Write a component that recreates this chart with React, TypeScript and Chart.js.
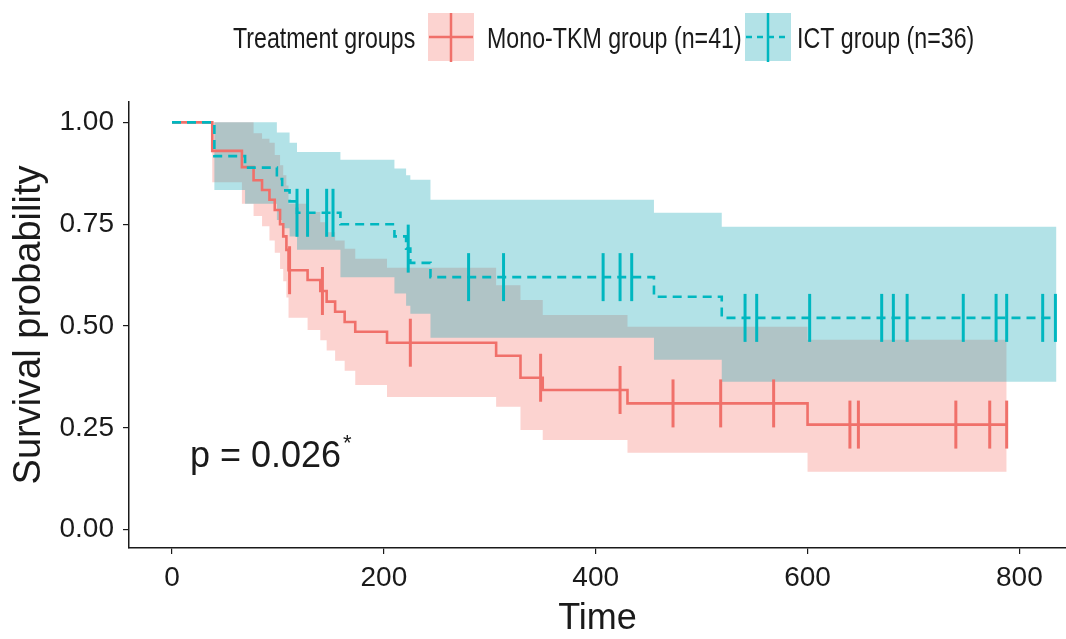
import React, { useEffect, useRef } from "react";
import { Chart, registerables } from "chart.js";

Chart.register(...registerables);

// ---------- data ----------
const xTicks = [0, 200, 400, 600, 800];
const yTicks = [0, 0.25, 0.5, 0.75, 1];

const legendTitle = "Treatment groups";
const seriesNames = ["Mono-TKM group (n=41)", "ICT group (n=36)"];
const pValueText = "p = 0.026";
const pValueStar = "*";

// Mono-TKM group: step curve (time, survival) and 95% band
const monoTimes = [0, 38, 66, 77, 85, 92, 97, 102, 105, 108, 110, 128, 140, 146, 154, 163, 173, 203, 306, 329, 350, 430, 600, 788];
const monoSurv = [1, 0.93, 0.89, 0.858, 0.834, 0.81, 0.785, 0.75, 0.72, 0.687, 0.637, 0.613, 0.586, 0.56, 0.535, 0.51, 0.486, 0.459, 0.427, 0.373, 0.343, 0.31, 0.258, 0.258];
const monoUpper = [1, 1, 1, 0.973, 0.96, 0.95, 0.92, 0.895, 0.87, 0.845, 0.8, 0.78, 0.755, 0.73, 0.71, 0.69, 0.665, 0.643, 0.6, 0.564, 0.527, 0.498, 0.466, 0.466];
const monoLower = [1, 0.853, 0.8, 0.77, 0.745, 0.71, 0.68, 0.64, 0.61, 0.57, 0.52, 0.49, 0.465, 0.44, 0.415, 0.39, 0.355, 0.326, 0.302, 0.245, 0.22, 0.189, 0.142, 0.142];
const monoCensorTimes = [111, 142, 225, 348, 423, 473, 518, 568, 640, 648, 740, 772, 788];
const monoCensorSurv = [0.637, 0.586, 0.459, 0.373, 0.343, 0.31, 0.31, 0.31, 0.258, 0.258, 0.258, 0.258, 0.258];

// ICT group
const ictTimes = [0, 40, 69, 99, 104, 111, 118, 159, 210, 221, 225, 244, 455, 519, 835];
const ictSurv = [1, 0.917, 0.889, 0.861, 0.833, 0.806, 0.778, 0.75, 0.72, 0.69, 0.655, 0.62, 0.572, 0.52, 0.52];
const ictUpper = [1, 1, 1, 0.975, 0.975, 0.95, 0.927, 0.908, 0.887, 0.87, 0.859, 0.81, 0.778, 0.744, 0.744];
const ictLower = [1, 0.834, 0.8, 0.76, 0.74, 0.72, 0.687, 0.62, 0.58, 0.55, 0.53, 0.471, 0.417, 0.363, 0.363];
const ictCensorTimes = [118, 128, 146, 152, 223, 280, 313, 407, 423, 434, 541, 552, 602, 670, 681, 694, 747, 778, 788, 822, 834];
const ictCensorSurv = [0.778, 0.778, 0.778, 0.778, 0.69, 0.62, 0.62, 0.62, 0.62, 0.62, 0.52, 0.52, 0.52, 0.52, 0.52, 0.52, 0.52, 0.52, 0.52, 0.52, 0.52];

// ---------- styling ----------
const RED = "#F0706A";
const TEAL = "#00B7C0";
const RED_FILL = "rgba(244,110,100,0.3)";
const TEAL_FILL = "rgba(0,160,175,0.3)";
const FONT = "'Liberation Sans', Arial, sans-serif";
const INK = "#1a1a1a";

const pts = (xs: number[], ys: number[]) => xs.map((x, i) => ({ x, y: ys[i] }));

function narrowText(ctx: CanvasRenderingContext2D, text: string, x: number, y: number, size: number, sx: number) {
  ctx.save();
  ctx.translate(x, y);
  ctx.scale(sx, 1);
  ctx.font = `${size}px ${FONT}`;
  ctx.fillStyle = INK;
  ctx.textBaseline = "alphabetic";
  ctx.textAlign = "left";
  ctx.fillText(text, 0, 0);
  ctx.restore();
}

const overlayPlugin = {
  id: "kmOverlay",
  afterDraw(chart: any) {
    const ctx: CanvasRenderingContext2D = chart.ctx;
    ctx.save();
    // legend
    narrowText(ctx, legendTitle, 233, 48, 29, 0.8);

    // key 1
    ctx.fillStyle = RED_FILL;
    ctx.fillRect(428, 13, 46, 48);
    ctx.strokeStyle = RED;
    ctx.lineWidth = 2.5;
    ctx.beginPath();
    ctx.moveTo(429, 37);
    ctx.lineTo(473, 37);
    ctx.moveTo(451, 13);
    ctx.lineTo(451, 62);
    ctx.stroke();
    narrowText(ctx, seriesNames[0], 487, 48, 29, 0.8);

    // key 2
    ctx.fillStyle = TEAL_FILL;
    ctx.fillRect(745, 13, 46, 48);
    ctx.strokeStyle = TEAL;
    ctx.lineWidth = 2.5;
    ctx.setLineDash([6, 5]);
    ctx.beginPath();
    ctx.moveTo(746, 37);
    ctx.lineTo(790, 37);
    ctx.stroke();
    ctx.setLineDash([]);
    ctx.beginPath();
    ctx.moveTo(768, 13);
    ctx.lineTo(768, 62);
    ctx.stroke();
    narrowText(ctx, seriesNames[1], 797, 48, 29, 0.8);

    // p value
    ctx.fillStyle = INK;
    ctx.font = `36px ${FONT}`;
    ctx.textBaseline = "alphabetic";
    ctx.fillText(pValueText, 190, 467);
    ctx.font = `22px ${FONT}`;
    ctx.fillText(pValueStar, 343, 450);
    ctx.restore();
  },
};

export default function App() {
  const ref = useRef<HTMLCanvasElement>(null);

  useEffect(() => {
    document.body.style.margin = "0";
    const band = (xs: number[], ys: number[], color: string, fill: any, order: number) => ({
      data: pts(xs, ys),
      stepped: "before" as const,
      borderColor: "rgba(0,0,0,0)",
      borderWidth: 0,
      backgroundColor: color,
      pointRadius: 0,
      fill,
      order,
    });
    const chart = new Chart(ref.current as HTMLCanvasElement, {
      type: "line",
      data: {
        datasets: [
          {
            data: pts(ictTimes, ictSurv),
            stepped: "before",
            borderColor: TEAL,
            borderWidth: 2.6,
            borderDash: [9, 6],
            pointRadius: 0,
            fill: false,
            order: 0,
          },
          {
            data: pts(monoTimes, monoSurv),
            stepped: "before",
            borderColor: RED,
            borderWidth: 2.6,
            pointRadius: 0,
            fill: false,
            order: 1,
          },
          {
            data: pts(ictCensorTimes, ictCensorSurv),
            showLine: false,
            pointStyle: "line",
            pointRotation: 90,
            pointRadius: 24,
            pointBorderWidth: 3,
            pointBorderColor: TEAL,
            borderColor: TEAL,
            fill: false,
            order: 2,
          },
          {
            data: pts(monoCensorTimes, monoCensorSurv),
            showLine: false,
            pointStyle: "line",
            pointRotation: 90,
            pointRadius: 24,
            pointBorderWidth: 3,
            pointBorderColor: RED,
            borderColor: RED,
            fill: false,
            order: 3,
          },
          band(ictTimes, ictUpper, TEAL_FILL, "+1", 4),
          band(ictTimes, ictLower, TEAL_FILL, false, 5),
          band(monoTimes, monoUpper, RED_FILL, "+1", 6),
          band(monoTimes, monoLower, RED_FILL, false, 7),
        ] as any,
      },
      options: {
        responsive: false,
        animation: false,
        devicePixelRatio: 1,
        events: [],
        layout: { autoPadding: false, padding: { top: 102, left: 0, right: 0, bottom: 0 } },
        plugins: {
          legend: { display: false },
          tooltip: { enabled: false },
          title: { display: false },
        },
        scales: {
          x: {
            type: "linear",
            min: -40.6,
            max: 844,
            afterBuildTicks: (s: any) => {
              s.ticks = xTicks.map((v) => ({ value: v }));
            },
            afterFit: (s: any) => {
              s.height = 91;
              s.paddingLeft = 0;
              s.paddingRight = 0;
            },
            ticks: {
              font: { family: FONT, size: 28 },
              color: INK,
              padding: 7,
              maxRotation: 0,
              autoSkip: false,
            },
            grid: {
              display: true,
              drawOnChartArea: false,
              drawTicks: true,
              tickLength: 6,
              color: INK,
              lineWidth: 1.2,
            },
            border: { display: true, color: INK, width: 1.5 },
            title: {
              display: true,
              text: "Time",
              color: INK,
              font: { family: FONT, size: 36, lineHeight: 1 },
              padding: { top: 0, bottom: 2 },
            },
          },
          y: {
            type: "linear",
            min: -0.045,
            max: 1.05,
            afterBuildTicks: (s: any) => {
              s.ticks = yTicks.map((v) => ({ value: v }));
            },
            afterFit: (s: any) => {
              s.width = 129;
              s.paddingTop = 0;
              s.paddingBottom = 0;
            },
            ticks: {
              font: { family: FONT, size: 28 },
              color: INK,
              padding: 9,
              callback: (v: any) => Number(v).toFixed(2),
            },
            grid: {
              display: true,
              drawOnChartArea: false,
              drawTicks: true,
              tickLength: 6,
              color: INK,
              lineWidth: 1.2,
            },
            border: { display: true, color: INK, width: 1.5 },
            title: {
              display: true,
              text: "Survival probability",
              color: INK,
              font: { family: FONT, size: 38, lineHeight: 1 },
              padding: { top: 11, bottom: 0 },
            },
          },
        },
      } as any,
      plugins: [overlayPlugin],
    });
    return () => chart.destroy();
  }, []);

  return (
    <div style={{ width: 1066, height: 639, background: "#fff" }}>
      <canvas ref={ref} width={1066} height={639} style={{ display: "block" }} />
    </div>
  );
}
